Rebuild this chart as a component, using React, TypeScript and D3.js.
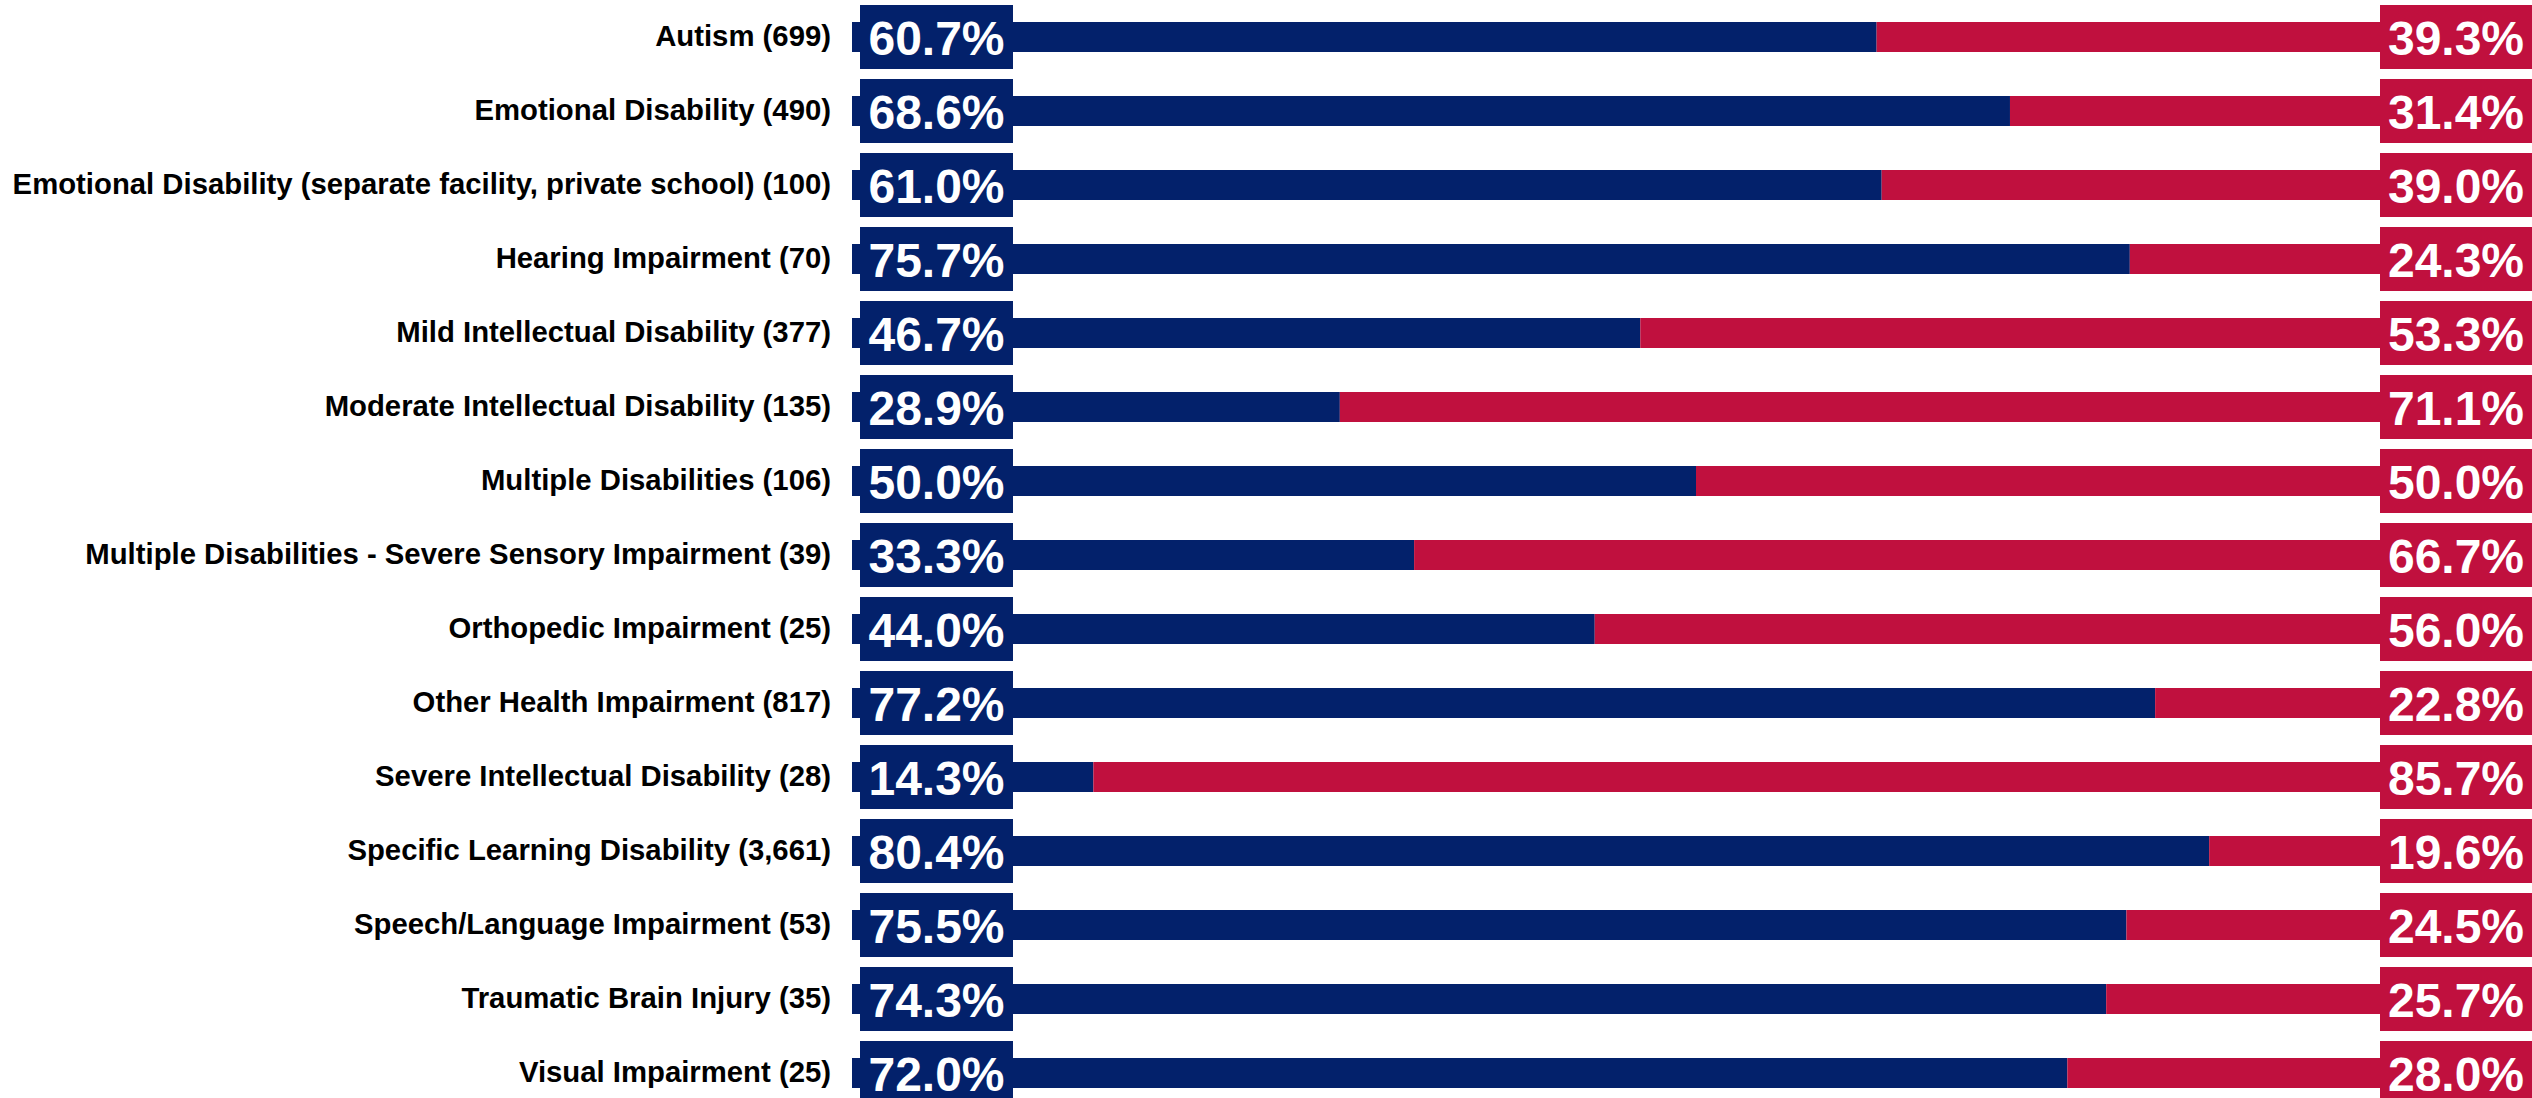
import { useEffect, useRef } from 'react';
import * as d3 from 'd3';

const categories = [
  'Autism (699)',
  'Emotional Disability (490)',
  'Emotional Disability (separate facility, private school) (100)',
  'Hearing Impairment (70)',
  'Mild Intellectual Disability (377)',
  'Moderate Intellectual Disability (135)',
  'Multiple Disabilities (106)',
  'Multiple Disabilities - Severe Sensory Impairment (39)',
  'Orthopedic Impairment (25)',
  'Other Health Impairment (817)',
  'Severe Intellectual Disability (28)',
  'Specific Learning Disability (3,661)',
  'Speech/Language Impairment (53)',
  'Traumatic Brain Injury (35)',
  'Visual Impairment (25)',
];

const leftValues = [60.7, 68.6, 61.0, 75.7, 46.7, 28.9, 50.0, 33.3, 44.0, 77.2, 14.3, 80.4, 75.5, 74.3, 72.0];
const rightValues = [39.3, 31.4, 39.0, 24.3, 53.3, 71.1, 50.0, 66.7, 56.0, 22.8, 85.7, 19.6, 24.5, 25.7, 28.0];

const W = 2532;
const H = 1098;
const NAVY = '#03216b';
const RED = '#c0103e';
const FONT = '"Liberation Sans", Arial, sans-serif';

export default function App() {
  const svgRef = useRef<SVGSVGElement>(null);

  useEffect(() => {
    if (!svgRef.current) return;
    const svg = d3.select(svgRef.current);
    svg.selectAll('*').remove();

    const x = d3.scaleLinear().domain([0, 100]).range([852, 2540]);
    const y = d3.scaleBand<string>().domain(categories).range([0, 1110]).padding(0);
    const barH = 30;
    const boxH = 64;

    const rows = categories.map((c, i) => ({ c, left: leftValues[i], right: rightValues[i] }));

    const g = svg.selectAll('g.row').data(rows).enter().append('g').attr('class', 'row')
      .attr('transform', d => `translate(0,${(y(d.c) ?? 0) + y.bandwidth() / 2})`);

    // stacked bars
    g.append('rect')
      .attr('x', x(0))
      .attr('y', -barH / 2)
      .attr('width', d => x(d.left) - x(0))
      .attr('height', barH)
      .attr('fill', NAVY);

    g.append('rect')
      .attr('x', d => x(d.left))
      .attr('y', -barH / 2)
      .attr('width', d => x(d.left + d.right) - x(d.left))
      .attr('height', barH)
      .attr('fill', RED);

    // category labels
    g.append('text')
      .attr('x', 831)
      .attr('y', 9)
      .attr('text-anchor', 'end')
      .attr('font-family', FONT)
      .attr('font-weight', 'bold')
      .attr('font-size', 29.3)
      .attr('fill', '#000')
      .text(d => d.c);

    // left value boxes
    g.append('rect')
      .attr('x', 860)
      .attr('y', -boxH / 2)
      .attr('width', 153)
      .attr('height', boxH)
      .attr('fill', NAVY);
    g.append('text')
      .attr('x', 936.5)
      .attr('y', 18)
      .attr('text-anchor', 'middle')
      .attr('font-family', FONT)
      .attr('font-weight', 'bold')
      .attr('font-size', 48)
      .attr('fill', '#fff')
      .text(d => `${d.left.toFixed(1)}%`);

    // right value boxes
    g.append('rect')
      .attr('x', 2380)
      .attr('y', -boxH / 2)
      .attr('width', 152)
      .attr('height', boxH)
      .attr('fill', RED);
    g.append('text')
      .attr('x', 2456)
      .attr('y', 18)
      .attr('text-anchor', 'middle')
      .attr('font-family', FONT)
      .attr('font-weight', 'bold')
      .attr('font-size', 48)
      .attr('fill', '#fff')
      .text(d => `${d.right.toFixed(1)}%`);
  }, []);

  return (
    <svg
      ref={svgRef}
      width={W}
      height={H}
      style={{ position: 'absolute', top: 0, left: 0, background: '#fff' }}
    />
  );
}
